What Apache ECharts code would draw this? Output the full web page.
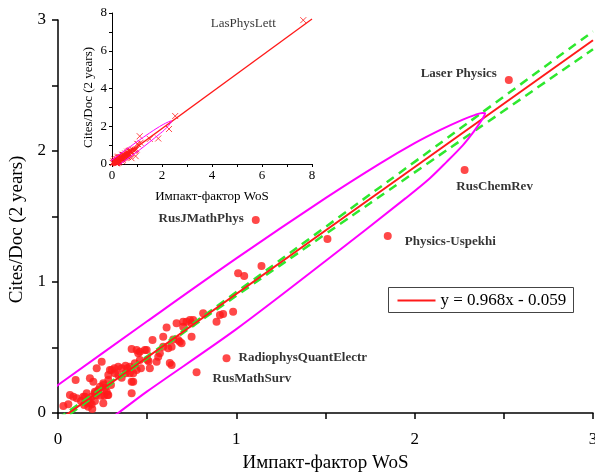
<!DOCTYPE html>
<html>
<head>
<meta charset="utf-8">
<script src="https://cdn.jsdelivr.net/npm/echarts@6/dist/echarts.min.js"></script>
<style>
  html, body { margin: 0; padding: 0; background: #fff; }
  #chart { width: 595px; height: 473px; }
</style>
</head>
<body>
<div id="chart"></div>
<script>
// Journals: WoS impact factor vs Scopus Cites/Doc (2 years)
const journalX = [0.030,0.058,0.067,0.086,0.099,0.105,0.129,0.142,0.147,0.161,0.161,0.170,0.170,0.179,0.189,0.189,0.192,0.198,0.207,0.207,
  0.217,0.226,0.241,0.245,0.254,0.254,0.259,0.278,0.282,0.291,0.297,0.316,0.338,0.338,0.357,0.357,0.379,0.379,0.390,0.403,
  0.413,0.413,0.422,0.422,0.431,0.441,0.441,0.450,0.459,0.459,0.465,0.487,0.497,0.502,0.508,0.515,0.530,0.553,0.562,0.571,
  0.590,0.590,0.609,0.618,0.627,0.637,0.637,0.646,0.665,0.674,0.683,0.693,0.702,0.702,0.721,0.740,0.749,0.749,0.758,0.814,
  0.889,0.908,0.926,0.982,1.010,1.044,1.141,1.511,
  0.151,0.179,0.207,0.213,0.254,0.263,0.273,0.282,0.226,0.235,0.282,0.301,0.319,0.403,0.413];
const journalY = [0.053,0.066,0.137,0.124,0.252,0.112,0.092,0.124,0.061,0.150,0.082,0.099,0.048,0.265,0.124,0.066,0.031,0.239,0.150,0.092,
  0.341,0.163,0.132,0.392,0.214,0.074,0.132,0.137,0.252,0.328,0.214,0.341,0.354,0.290,0.341,0.270,0.361,0.303,0.341,0.303,
  0.489,0.150,0.239,0.303,0.379,0.328,0.481,0.456,0.468,0.405,0.341,0.481,0.481,0.405,0.395,0.341,0.557,0.392,0.430,0.456,
  0.506,0.583,0.652,0.494,0.382,0.366,0.506,0.562,0.685,0.557,0.544,0.532,0.697,0.659,0.697,0.710,0.685,0.583,0.710,0.761,
  0.697,0.748,0.756,0.773,1.066,1.046,1.122,1.328,
  0.124,0.076,0.163,0.137,0.227,0.188,0.163,0.137,0.176,0.201,0.290,0.328,0.303,0.354,0.239];

// Named journals
const namedJournals = ['Laser Physics','RusChemRev','Physics-Uspekhi','RusJMathPhys','RadiophysQuantElectr','RusMathSurv'];
const namedX = [2.528, 2.280, 1.849, 1.109, 0.945, 0.777];
const namedY = [2.542, 1.855, 1.351, 1.473, 0.418, 0.311];

// Outlier shown only in the overview inset
const outlierName = 'LasPhysLett';
const outlierX = 7.65;
const outlierY = 7.62;

// Linear fit y = slope*x + intercept
const fitSlope = 0.968;
const fitIntercept = -0.059;
const fitLabel = 'y = 0.968x - 0.059';

// 95% confidence band of the fit
const bandX = [0, 0.5, 1, 1.5, 2, 2.5, 3];
const bandUpper = [-0.043, 0.433, 0.923, 1.420, 1.917, 2.415, 2.913];
const bandLower = [-0.075, 0.417, 0.895, 1.366, 1.837, 2.307, 2.777];

// Confidence ellipse outline (upper arc, tip, lower arc)
const ellipseX = [-0.2, 0, 0.5, 1.0, 1.5, 1.8, 2.0, 2.15, 2.27, 2.34, 2.38, 2.395,
  2.385, 2.364, 2.327, 2.271, 2.178, 2.084, 1.95, 1.5, 1.0, 0.5, 0.337, 0.2];
const ellipseY = [0.02, 0.214, 0.70, 1.18, 1.64, 1.90, 2.06, 2.165, 2.240, 2.276, 2.290, 2.288,
  2.255, 2.211, 2.140, 2.045, 1.915, 1.790, 1.640, 1.16, 0.64, 0.165, 0, -0.13];

// Axis tick values
const mainTicks = [0, 1, 2, 3];
const insetTicks = [0, 2, 4, 6, 8];

const FONT = 'Liberation Serif';
const RED = '#ff1a1a';
const MAGENTA = '#ff00ff';
const GREEN = '#2ee82e';

const zip = (xs, ys) => xs.map((x, i) => [x, ys[i]]);

const labelPlacement = {
  'Laser Physics':        { position: 'left',   distance: 8,  offset: [0, -6] },
  'RusChemRev':           { position: 'bottom', distance: 5,  offset: [30, 1] },
  'Physics-Uspekhi':      { position: 'right',  distance: 13, offset: [0, 6] },
  'RusJMathPhys':         { position: 'left',   distance: 8,  offset: [0, -1] },
  'RadiophysQuantElectr': { position: 'right',  distance: 8,  offset: [0, -1] },
  'RusMathSurv':          { position: 'right',  distance: 12, offset: [0, 6] }
};

const namedData = namedJournals.map((name, i) => ({
  name: name,
  value: [namedX[i], namedY[i]],
  label: Object.assign({
    show: true,
    formatter: '{b}',
    fontFamily: FONT,
    fontWeight: 'bold',
    fontSize: 13,
    color: '#000'
  }, labelPlacement[name])
}));

const mainX = mainTicks[mainTicks.length - 1];
const insetX = insetTicks[insetTicks.length - 1];
const fitAt = x => fitSlope * x + fitIntercept;

const isTick = (ticks) => (v) => ticks.some(t => Math.abs(t - v) < 1e-9) ? String(v) : '';

const mainAxis = (extra) => Object.assign({
  type: 'value', gridIndex: 0, min: 0, max: mainX, interval: 0.5,
  nameLocation: 'middle',
  axisLine: { show: true, onZero: false, lineStyle: { color: '#000', width: 1.5 } },
  axisTick: { show: true, inside: false, length: 6, lineStyle: { color: '#000', width: 1.5 } },
  splitLine: { show: false }
}, extra);

const insetAxis = (extra) => Object.assign({
  type: 'value', gridIndex: 1, min: 0, max: insetX, interval: 1,
  nameLocation: 'middle',
  axisLine: { show: true, onZero: false, lineStyle: { color: '#000', width: 1 } },
  axisTick: { show: true, inside: false, length: 3, lineStyle: { color: '#000', width: 1 } },
  splitLine: { show: false }
}, extra);

const chart = echarts.init(document.getElementById('chart'), null, { renderer: 'canvas' });

const crossPath = 'path://M0 0L10 10M10 0L0 10';

chart.setOption({
  animation: false,
  backgroundColor: '#fff',
  grid: [
    { left: 58, right: 2, top: 20, bottom: 60, containLabel: false, outerBoundsMode: 'none' },
    { left: 112, top: 13, width: 200, height: 151, containLabel: false, outerBoundsMode: 'none' }
  ],
  // Fit legend box
  graphic: [{
    type: 'group', left: 388, top: 287, z: 100,
    children: [
      { type: 'rect', shape: { x: 0, y: 0, width: 185, height: 25 },
        style: { fill: '#fff', stroke: '#444', lineWidth: 1 } },
      { type: 'line', shape: { x1: 9, y1: 13, x2: 47, y2: 13 },
        style: { stroke: RED, lineWidth: 2 } },
      { type: 'text', x: 52, y: 13,
        style: { text: fitLabel, fontFamily: FONT, fontSize: 17, fill: '#000', verticalAlign: 'middle' } }
    ]
  }],
  xAxis: [
    mainAxis({
      name: 'Импакт-фактор WoS', nameGap: 41,
      nameTextStyle: { fontFamily: FONT, fontSize: 19, color: '#000' },
      axisLabel: { fontFamily: FONT, fontSize: 17, color: '#000', margin: 18, formatter: isTick(mainTicks) }
    }),
    insetAxis({
      name: 'Импакт-фактор WoS', nameGap: 26,
      nameTextStyle: { fontFamily: FONT, fontSize: 13, color: '#000' },
      axisLabel: { fontFamily: FONT, fontSize: 13, color: '#000', margin: 5, formatter: isTick(insetTicks) }
    })
  ],
  yAxis: [
    mainAxis({
      name: 'Cites/Doc (2 years)', nameGap: 30,
      nameTextStyle: { fontFamily: FONT, fontSize: 19, color: '#000', padding: [0, 26, 0, 0] },
      axisLabel: { fontFamily: FONT, fontSize: 17, color: '#000', margin: 12, formatter: isTick(mainTicks) }
    }),
    insetAxis({
      name: 'Cites/Doc (2 years)', nameGap: 17,
      nameTextStyle: { fontFamily: FONT, fontSize: 13, color: '#000', padding: [0, 18, 0, 0] },
      axisLabel: { fontFamily: FONT, fontSize: 13, color: '#000', margin: 5, formatter: isTick(insetTicks) }
    })
  ],
  series: [
    // ---- main panel ----
    {
      type: 'scatter', xAxisIndex: 0, yAxisIndex: 0, z: 2,
      symbol: 'circle', symbolSize: 8,
      itemStyle: { color: RED },
      data: zip(journalX, journalY)
    },
    {
      type: 'scatter', xAxisIndex: 0, yAxisIndex: 0, z: 2,
      symbol: 'circle', symbolSize: 8,
      itemStyle: { color: RED },
      data: namedData
    },
    {
      type: 'line', xAxisIndex: 0, yAxisIndex: 0, z: 3, clip: true,
      showSymbol: false, symbol: 'none', smooth: true,
      lineStyle: { color: GREEN, width: 2.5, type: [9, 6] },
      data: zip(bandX, bandUpper)
    },
    {
      type: 'line', xAxisIndex: 0, yAxisIndex: 0, z: 3, clip: true,
      showSymbol: false, symbol: 'none', smooth: true,
      lineStyle: { color: GREEN, width: 2.5, type: [9, 6] },
      data: zip(bandX, bandLower)
    },
    {
      name: fitLabel,
      type: 'line', xAxisIndex: 0, yAxisIndex: 0, z: 4, clip: true,
      showSymbol: false, symbol: 'none',
      lineStyle: { color: RED, width: 2 },
      data: [[0, fitAt(0)], [mainX, fitAt(mainX)]]
    },
    {
      type: 'line', xAxisIndex: 0, yAxisIndex: 0, z: 4, clip: true,
      showSymbol: false, symbol: 'none', smooth: 0.3,
      lineStyle: { color: MAGENTA, width: 2 },
      data: zip(ellipseX, ellipseY)
    },
    // ---- overview inset ----
    {
      type: 'scatter', xAxisIndex: 1, yAxisIndex: 1, z: 2,
      symbol: crossPath, symbolSize: 6,
      itemStyle: { color: 'rgba(0,0,0,0)', borderColor: RED, borderWidth: 1 },
      data: zip(journalX.concat(namedX), journalY.concat(namedY))
    },
    {
      type: 'scatter', xAxisIndex: 1, yAxisIndex: 1, z: 2,
      symbol: crossPath, symbolSize: 6,
      itemStyle: { color: 'rgba(0,0,0,0)', borderColor: RED, borderWidth: 1 },
      label: {
        show: true, formatter: '{b}', position: 'left', distance: 24, offset: [0, 3],
        fontFamily: FONT, fontSize: 13, color: '#000'
      },
      data: [{ name: outlierName, value: [outlierX, outlierY] }]
    },
    {
      type: 'line', xAxisIndex: 1, yAxisIndex: 1, z: 4, clip: true,
      showSymbol: false, symbol: 'none',
      lineStyle: { color: RED, width: 1.3 },
      data: [[0, fitAt(0)], [insetX, fitAt(insetX)]]
    },
    {
      type: 'line', xAxisIndex: 1, yAxisIndex: 1, z: 4, clip: true,
      showSymbol: false, symbol: 'none', smooth: 0.3,
      lineStyle: { color: MAGENTA, width: 1 },
      data: zip(ellipseX, ellipseY)
    }
  ]
});
</script>
</body>
</html>
